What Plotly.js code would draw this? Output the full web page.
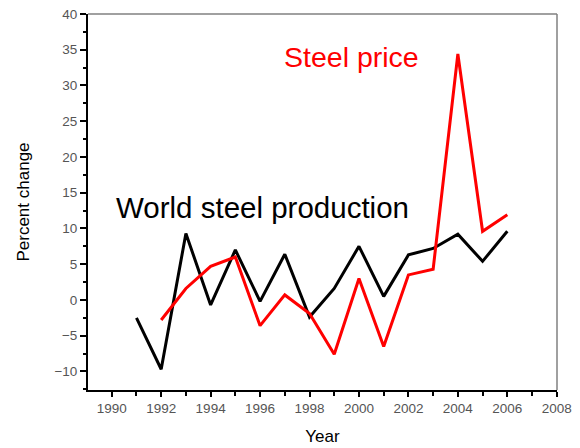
<!DOCTYPE html>
<html>
<head>
<meta charset="utf-8">
<script src="https://cdn.plot.ly/plotly-3.0.1.min.js"></script>
<style>html,body{margin:0;padding:0;background:#fff;}#chart{width:580px;height:448px;}</style>
</head>
<body>
<div id="chart"></div>
<script>
// Data
const productionYears = [1991, 1992, 1993, 1994, 1995, 1996, 1997, 1998, 1999, 2000, 2001, 2002, 2003, 2004, 2005, 2006];
const productionChange = [-2.5, -9.7, 9.3, -0.7, 7.0, -0.2, 6.4, -2.4, 1.6, 7.5, 0.5, 6.3, 7.2, 9.2, 5.4, 9.6];
const priceYears = [1992, 1993, 1994, 1995, 1996, 1997, 1998, 1999, 2000, 2001, 2002, 2003, 2004, 2005, 2006];
const priceChange = [-2.8, 1.6, 4.7, 6.0, -3.6, 0.7, -1.9, -7.6, 3.0, -6.5, 3.5, 4.3, 34.4, 9.6, 11.9];
const labels = {production: "World steel production", price: "Steel price", xTitle: "Year", yTitle: "Percent change"};

const traces = [
  {x: productionYears, y: productionChange, type: "scatter", mode: "lines",
   line: {color: "#000000", width: 3}, name: labels.production},
  {x: priceYears, y: priceChange, type: "scatter", mode: "lines",
   line: {color: "#ff0000", width: 3}, name: labels.price}
];

const tickFont = {family: "Liberation Sans, Arial, sans-serif", size: 13.5, color: "#555555"};
const layout = {
  width: 580, height: 448,
  margin: {l: 88, r: 23, t: 14, b: 58},
  paper_bgcolor: "#ffffff", plot_bgcolor: "#ffffff",
  showlegend: false,
  font: {family: "Liberation Sans, Arial, sans-serif", color: "#000"},
  xaxis: {
    range: [1989.04, 2008.01], autorange: false,
    tick0: 1990, dtick: 2, ticks: "outside", ticklen: 5, tickwidth: 2, tickcolor: "#000",
    minor: {dtick: 1, tick0: 1990, ticks: "outside", ticklen: 4, tickwidth: 2, tickcolor: "#000", showgrid: false},
    showline: true, linecolor: "#000", linewidth: 2, showgrid: false, zeroline: false,
    tickfont: tickFont,
    title: {text: labels.xTitle, font: {size: 17, color: "#000"}, standoff: 15}
  },
  yaxis: {
    range: [-12.6, 40], autorange: false,
    tick0: -10, dtick: 5, ticks: "outside", ticklen: 6, tickwidth: 2, tickcolor: "#000",
    minor: {dtick: 2.5, tick0: -10, ticks: "outside", ticklen: 3, tickwidth: 2, tickcolor: "#000", showgrid: false},
    showline: true, linecolor: "#000", linewidth: 2, showgrid: false, zeroline: false,
    tickfont: tickFont,
    title: {text: labels.yTitle, font: {size: 17, color: "#000"}, standoff: 20}
  },
  shapes: [
    {type: "line", xref: "paper", yref: "paper", x0: 0, x1: 1, y0: 1, y1: 1, line: {color: "#808080", width: 1.5}},
    {type: "line", xref: "paper", yref: "paper", x0: 1, x1: 1, y0: 0, y1: 1, line: {color: "#808080", width: 1.5}}
  ],
  annotations: [
    {x: 1999.68, y: 34.0, xref: "x", yref: "y", text: labels.price, showarrow: false,
     font: {size: 28.5, color: "#ff0000"}, xanchor: "center", yanchor: "middle"},
    {x: 1996.1, y: 12.9, xref: "x", yref: "y", text: labels.production, showarrow: false,
     font: {size: 29.5, color: "#000000"}, xanchor: "center", yanchor: "middle"}
  ]
};

Plotly.newPlot("chart", traces, layout, {displayModeBar: false, staticPlot: true});
</script>
</body>
</html>
